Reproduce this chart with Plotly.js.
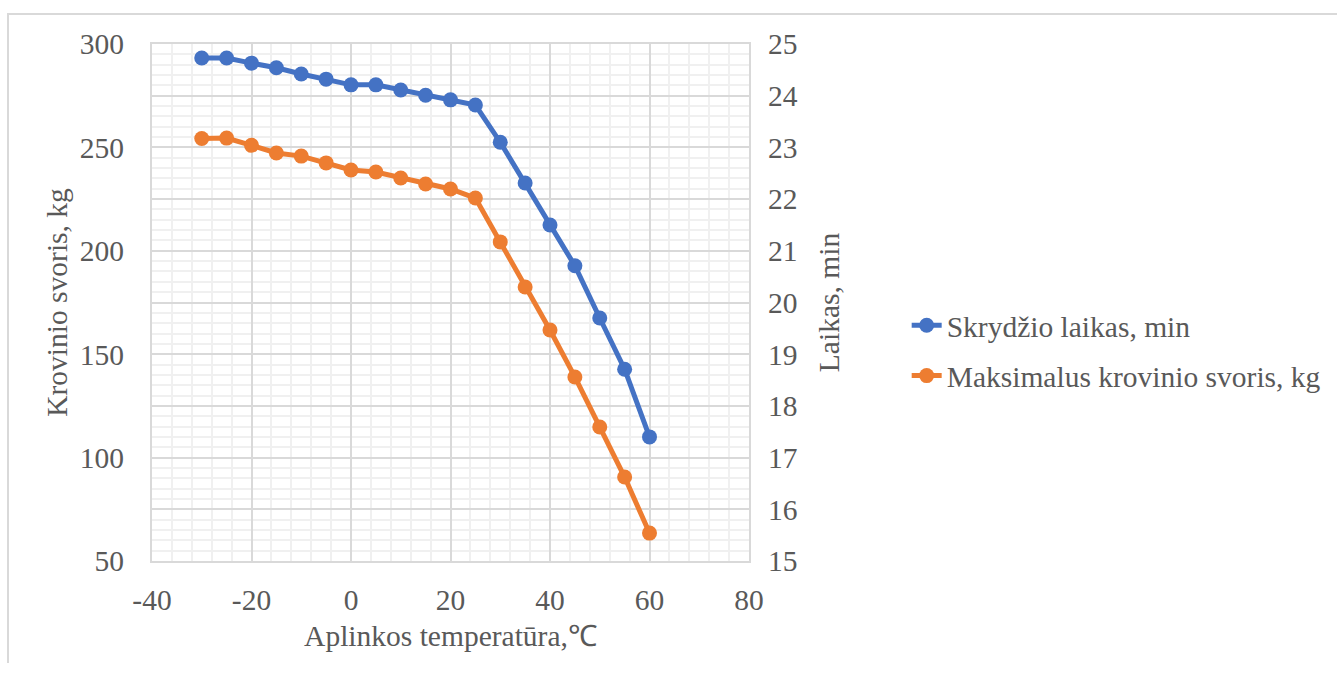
<!DOCTYPE html>
<html>
<head>
<meta charset="utf-8">
<script src="https://cdn.plot.ly/plotly-3.0.1.min.js"></script>
<style>
  html, body { margin: 0; padding: 0; background: #fff; }
  #wrap { position: relative; width: 1337px; height: 677px; }
  #frame { position: absolute; left: 7px; top: 13px; width: 1340px; height: 650px;
           border-top: 2px solid #d9d9d9; border-left: 2px solid #d9d9d9; box-sizing: border-box; }
  #chart { position: absolute; left: 0; top: 0; width: 1337px; height: 677px; }
</style>
</head>
<body>
<div id="wrap">
  <div id="frame"></div>
  <div id="chart"></div>
</div>
<script>
const temperature = [-30, -25, -20, -15, -10, -5, 0, 5, 10, 15, 20, 25, 30, 35, 40, 45, 50, 55, 60];
const flightTimeMin = [24.73, 24.73, 24.63, 24.54, 24.42, 24.32, 24.21, 24.21, 24.11, 24.01, 23.92, 23.82, 23.10, 22.31, 21.50, 20.71, 19.70, 18.71, 17.40];
const maxPayloadKg = [254.3, 254.5, 251.0, 247.3, 245.8, 242.5, 239.1, 238.1, 235.2, 232.3, 229.9, 225.5, 204.3, 182.5, 161.7, 139.0, 114.8, 90.6, 63.5];

const xTickVals = [-40, -20, 0, 20, 40, 60, 80];
const xTickText = ["-40", "-20", "0", "20", "40", "60", "80"];

const seriesNames = ["Skrydžio laikas, min", "Maksimalus krovinio svoris, kg"];
const xTitle = "Aplinkos temperatūra,℃";
const yTitle = "Krovinio svoris, kg";
const y2Title = "Laikas, min";

const font = "Liberation Serif, Times New Roman, serif";
const textColor = "#595959";
const tickSize = 29.5;
const titleSize = 29.5;

const traces = [
  {
    x: temperature, y: flightTimeMin, yaxis: "y2", name: seriesNames[0],
    type: "scatter", mode: "lines+markers", legendgroup: "a",
    line: { color: "#4472C4", width: 5 },
    marker: { color: "#4472C4", size: 15 }
  },
  {
    x: temperature, y: maxPayloadKg, yaxis: "y", name: seriesNames[1],
    type: "scatter", mode: "lines+markers", legendgroup: "b",
    line: { color: "#ED7D31", width: 5 },
    marker: { color: "#ED7D31", size: 15 }
  }
];

const layout = {
  width: 1337, height: 677,
  paper_bgcolor: "rgba(0,0,0,0)", plot_bgcolor: "rgba(0,0,0,0)",
  margin: { l: 152, r: 587, t: 44, b: 116, pad: 0 },
  font: { family: font, size: titleSize, color: textColor },
  showlegend: true,
  legend: {
    x: 1.262, y: 0.407, xanchor: "left", yanchor: "middle",
    font: { family: font, size: titleSize, color: textColor },
    tracegroupgap: 9, itemwidth: 30, bgcolor: "rgba(0,0,0,0)"
  },
  xaxis: {
    range: [-40, 80], tickvals: xTickVals, ticktext: xTickText,
    showgrid: true, gridcolor: "#d9d9d9", gridwidth: 2,
    minor: { dtick: 4, showgrid: true, gridcolor: "#f0f0f0", gridwidth: 2 },
    showline: true, linecolor: "#d9d9d9", linewidth: 2, mirror: true,
    zeroline: false, ticks: "", ticklabelstandoff: 12,
    tickfont: { family: font, size: tickSize, color: textColor },
    title: { text: xTitle, font: { family: font, size: titleSize, color: textColor }, standoff: 10 }
  },
  yaxis: {
    range: [50, 300], dtick: 50, tick0: 0,
    showgrid: false, zeroline: false, ticks: "",
    showline: true, linecolor: "#d9d9d9", linewidth: 2, mirror: true,
    tickfont: { family: font, size: tickSize, color: textColor },
    ticklabelstandoff: 20,
    title: { text: yTitle, font: { family: font, size: titleSize, color: textColor }, standoff: 4 }
  },
  yaxis2: {
    overlaying: "y", side: "right",
    range: [15, 25], dtick: 1, tick0: 0,
    showgrid: true, gridcolor: "#d9d9d9", gridwidth: 2,
    minor: { dtick: 0.2, showgrid: true, gridcolor: "#f0f0f0", gridwidth: 2 },
    zeroline: false, ticks: "", ticklabelstandoff: 18,
    tickfont: { family: font, size: tickSize, color: textColor },
    title: { text: y2Title, font: { family: font, size: titleSize, color: textColor }, standoff: 21 }
  }
};

Plotly.newPlot("chart", traces, layout, { displayModeBar: false, staticPlot: true });
</script>
</body>
</html>
